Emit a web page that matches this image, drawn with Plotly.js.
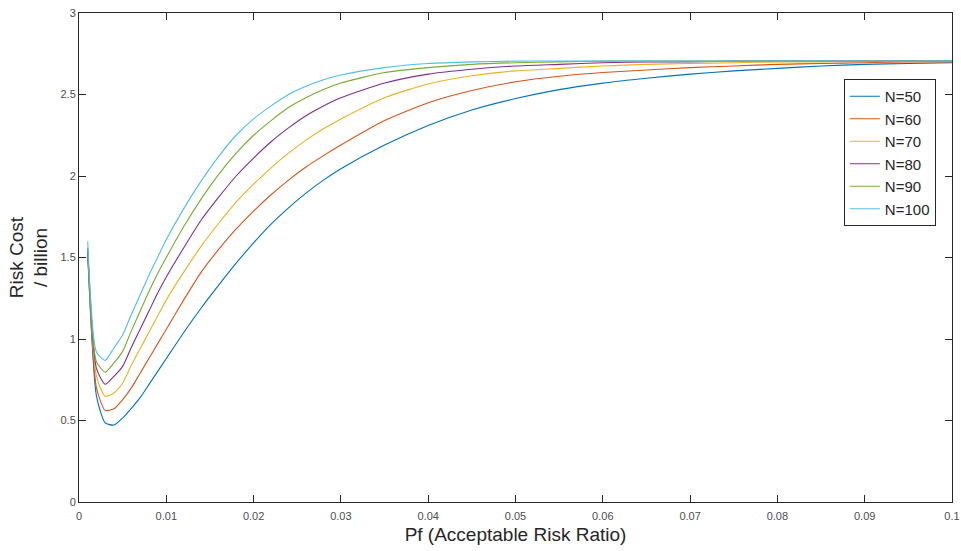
<!DOCTYPE html>
<html>
<head>
<meta charset="utf-8">
<script src="https://cdn.plot.ly/plotly-3.0.1.min.js"></script>
<style>html,body{margin:0;padding:0;background:#fff;}#chart{width:961px;height:551px;}</style>
</head>
<body>
<div id="chart"></div>
<script>
// Pf values (x axis)
const pf = [0.001,0.002,0.003,0.004,0.005,0.006,0.007,0.008,0.009,0.010,
            0.012,0.014,0.016,0.018,0.020,0.022,0.024,0.026,0.028,0.030,
            0.035,0.040,0.045,0.050,0.055,0.060,0.065,0.070,0.075,0.080,0.085,0.090,0.095,0.100];

const seriesNames = ["N=50","N=60","N=70","N=80","N=90","N=100"];

const n50  = [1.52,0.65,0.485,0.472,0.515,0.575,0.64,0.72,0.80,0.88,
              1.04,1.19,1.33,1.465,1.59,1.705,1.805,1.895,1.975,2.045,
              2.19,2.31,2.405,2.475,2.53,2.57,2.60,2.625,2.645,2.66,2.675,2.685,2.69,2.695];
const n60  = [1.53,0.70,0.562,0.572,0.628,0.70,0.79,0.88,0.97,1.06,
              1.24,1.41,1.55,1.675,1.785,1.885,1.975,2.055,2.125,2.19,
              2.34,2.45,2.525,2.578,2.612,2.635,2.65,2.665,2.675,2.685,2.69,2.695,2.70,2.70];
const n70  = [1.54,0.77,0.648,0.669,0.73,0.84,0.94,1.04,1.14,1.24,
              1.41,1.57,1.71,1.84,1.95,2.05,2.14,2.22,2.29,2.35,
              2.48,2.565,2.615,2.645,2.66,2.675,2.685,2.69,2.695,2.70,2.70,2.705,2.705,2.705];
const n80  = [1.55,0.82,0.722,0.771,0.832,0.95,1.06,1.17,1.28,1.38,
              1.56,1.73,1.87,2.00,2.11,2.21,2.295,2.37,2.43,2.48,
              2.57,2.625,2.655,2.675,2.685,2.695,2.70,2.70,2.705,2.705,2.705,2.705,2.705,2.705];
const n90  = [1.56,0.86,0.797,0.853,0.924,1.05,1.17,1.29,1.40,1.50,
              1.69,1.86,2.01,2.14,2.25,2.34,2.42,2.48,2.53,2.57,
              2.635,2.665,2.685,2.695,2.70,2.705,2.705,2.705,2.705,2.705,2.705,2.705,2.705,2.705];
const n100 = [1.60,0.92,0.869,0.945,1.026,1.15,1.27,1.39,1.50,1.61,
              1.80,1.97,2.12,2.25,2.35,2.43,2.50,2.55,2.59,2.62,
              2.665,2.69,2.70,2.705,2.705,2.705,2.705,2.705,2.705,2.705,2.705,2.705,2.705,2.705];

const xTicks = [0,0.01,0.02,0.03,0.04,0.05,0.06,0.07,0.08,0.09,0.1];
const xTickText = ["0","0.01","0.02","0.03","0.04","0.05","0.06","0.07","0.08","0.09","0.1"];
const yTicks = [0,0.5,1,1.5,2,2.5,3];
const yTickText = ["0","0.5","1","1.5","2","2.5","3"];

const colors = ["#0072BD","#D95319","#EDB120","#7E2F8E","#77AC30","#4DBEEE"];
const allY = [n50,n60,n70,n80,n90,n100];

const FONT = "Liberation Sans, Arial, sans-serif";

const traces = allY.map((ys,i)=>({
  x: pf, y: ys, type: "scatter", mode: "lines", name: seriesNames[i],
  line: {color: colors[i], width: 1.1, shape: "spline", smoothing: 0.6}
}));

const axisCommon = {
  showline: true, linecolor: "#262626", linewidth: 1, mirror: "ticks",
  ticks: "inside", ticklen: 7, tickcolor: "#262626", tickwidth: 1,
  showgrid: false, zeroline: false,
  tickfont: {family: FONT, size: 11, color: "#4d4d4d"}
};

const layout = {
  width: 961, height: 551,
  margin: {l: 79, r: 9, t: 13, b: 49},
  paper_bgcolor: "#ffffff", plot_bgcolor: "#ffffff",
  showlegend: true,
  legend: {
    x: 0.9815, xanchor: "right", y: 0.865, yanchor: "top",
    bgcolor: "#ffffff", bordercolor: "#262626", borderwidth: 1,
    font: {family: FONT, size: 15, color: "#262626"},
    tracegroupgap: 0, itemwidth: 30
  },
  xaxis: Object.assign({}, axisCommon, {
    range: [0, 0.1], tickvals: xTicks, ticktext: xTickText,
    ticklabelstandoff: 4,
    title: {text: "Pf (Acceptable Risk Ratio)", standoff: 6,
            font: {family: FONT, size: 19, color: "#262626"}}
  }),
  yaxis: Object.assign({}, axisCommon, {
    range: [0, 3], tickvals: yTicks, ticktext: yTickText,
    title: {text: "Risk Cost<br>/ billion", standoff: 7,
            font: {family: FONT, size: 19, color: "#262626"}}
  })
};

Plotly.newPlot("chart", traces, layout, {displayModeBar: false, staticPlot: true});
</script>
</body>
</html>
